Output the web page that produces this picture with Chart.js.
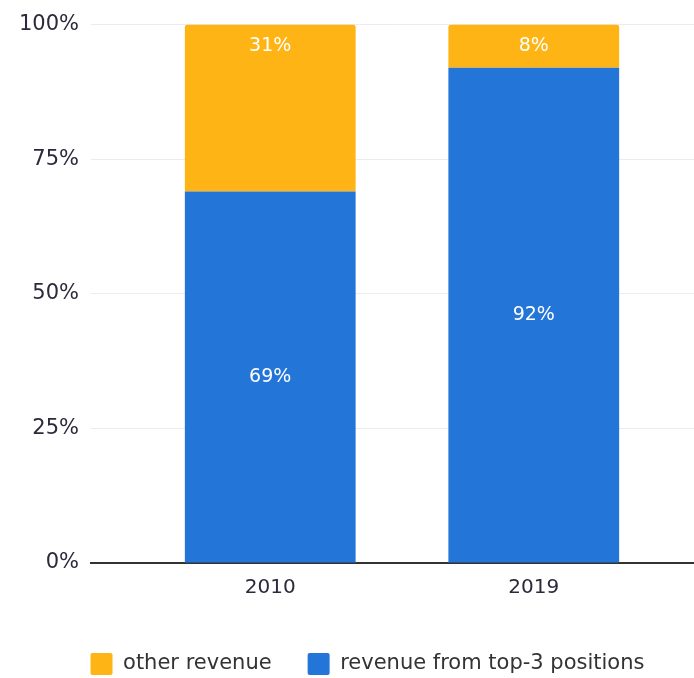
<!DOCTYPE html>
<html><head><meta charset="utf-8">
<script src="https://cdn.jsdelivr.net/npm/chart.js@4/dist/chart.umd.min.js"></script>
<style>html,body{margin:0;padding:0;background:#fff;}#wrap{width:694px;height:678px;}</style>
</head><body><div id="wrap"><canvas id="c"></canvas></div>
<script>
const categories = ['2010', '2019'];
const top3Revenue = [69, 92];
const otherRevenue = [31, 8];
const yTicks = [0, 25, 50, 75, 100];

const FONT = 'DejaVu Sans';
const labelPlugin = {
  id: 'segLabels',
  afterLayout(chart) {
    const lg = chart.legend;
    if (lg) { lg.left += 17; lg.right += 17; }
  },
  afterDatasetsDraw(chart) {
    const ctx = chart.ctx;
    ctx.save();
    ctx.fillStyle = '#ffffff';
    ctx.font = '19px ' + FONT;
    ctx.textAlign = 'center';
    ctx.textBaseline = 'middle';
    chart.data.datasets.forEach((ds, di) => {
      const meta = chart.getDatasetMeta(di);
      meta.data.forEach((bar, i) => {
        const v = ds.data[i].y;
        const p = bar.getProps(['x', 'y', 'base'], true);
        let y;
        if (di === 0) y = (p.y + p.base) / 2;
        else y = Math.min(p.y + 21, (p.y + p.base) / 2);
        ctx.fillText(v + '%', p.x, y);
      });
    });
    ctx.restore();
  }
};

new Chart(document.getElementById('c'), {
  type: 'bar',
  data: {
    datasets: [
      { label: 'revenue from top-3 positions', data: top3Revenue.map((v, i) => ({ x: i, y: v })), backgroundColor: '#2375d8', borderRadius: 0, categoryPercentage: 1, barPercentage: 0.648 },
      { label: 'other revenue', data: otherRevenue.map((v, i) => ({ x: i, y: v })), backgroundColor: '#fdb414', borderRadius: { topLeft: 3, topRight: 3 }, borderSkipped: 'bottom', categoryPercentage: 1, barPercentage: 0.648 }
    ]
  },
  options: {
    responsive: true, maintainAspectRatio: false, animation: false,
    layout: { padding: { left: 7, right: 0, top: 9, bottom: -7 } },
    plugins: {
      legend: {
        position: 'bottom', reverse: true,
        title: { display: true, text: '', font: { size: 3, lineHeight: 1 }, padding: { top: 0, bottom: 1 } },
        labels: { font: { family: FONT, size: 21 }, color: '#333', boxWidth: 22, boxHeight: 22, padding: 36, useBorderRadius: true, borderRadius: 2 }
      },
      tooltip: { enabled: false }
    },
    scales: {
      x: {
        type: 'linear', stacked: true, min: -0.68, max: 1.608, offset: false,
        afterBuildTicks: (s) => { s.ticks = categories.map((c, i) => ({ value: i })); },
        ticks: { callback: (v) => categories[v] ?? '', font: { family: FONT, size: 20 }, color: '#2a2a3c', padding: 13 },
        grid: { display: false, drawTicks: false },
        border: { display: true, color: '#333', width: 2 }
      },
      y: {
        stacked: true, min: 0, max: 100,
        afterBuildTicks: (s) => { s.ticks = yTicks.map(v => ({ value: v })); },
        ticks: { callback: (v) => v + '%', font: { family: FONT, size: 21 }, color: '#2a2a3c', padding: 12 },
        grid: { color: '#ececec', lineWidth: 1, drawTicks: false },
        border: { display: false }
      }
    }
  },
  plugins: [labelPlugin]
});
</script></body></html>
